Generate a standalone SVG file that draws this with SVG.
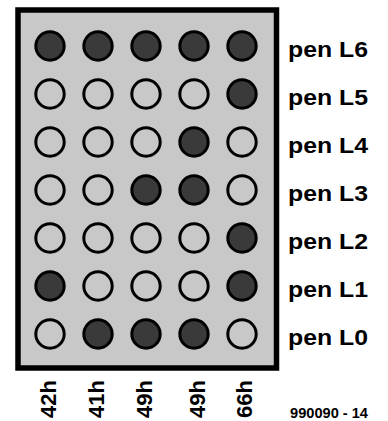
<svg xmlns="http://www.w3.org/2000/svg" width="388" height="421" viewBox="0 0 388 421">
<style>
.bg{fill:#ffffff}
.panel{fill:#c8c8c8;stroke:#000;stroke-width:5.5}
.on{fill:#3a3a3a;stroke:#000;stroke-width:3}
.off{fill:#c8c8c8;stroke:#000;stroke-width:3}
.lbl{font-family:"Liberation Sans",Arial,sans-serif;font-weight:bold;fill:#000}
.pen{font-size:22.5px}
.col{font-size:22px}
.num{font-size:15px}
</style>
<rect class="bg" x="0" y="0" width="388" height="421"/>
<g id="panel">
<rect class="panel" x="18" y="10" width="258.5" height="358"/>
</g>
<g id="row-L6">
<circle class="on" cx="50" cy="46" r="14.2"/><circle class="on" cx="98" cy="46" r="14.2"/><circle class="on" cx="146" cy="46" r="14.2"/><circle class="on" cx="194" cy="46" r="14.2"/><circle class="on" cx="242" cy="46" r="14.2"/>
<text class="lbl pen" x="288" y="56.5" textLength="80" lengthAdjust="spacingAndGlyphs">pen L6</text>
</g>
<g id="row-L5">
<circle class="off" cx="50" cy="94" r="14.2"/><circle class="off" cx="98" cy="94" r="14.2"/><circle class="off" cx="146" cy="94" r="14.2"/><circle class="off" cx="194" cy="94" r="14.2"/><circle class="on" cx="242" cy="94" r="14.2"/>
<text class="lbl pen" x="288" y="104.5" textLength="80" lengthAdjust="spacingAndGlyphs">pen L5</text>
</g>
<g id="row-L4">
<circle class="off" cx="50" cy="142" r="14.2"/><circle class="off" cx="98" cy="142" r="14.2"/><circle class="off" cx="146" cy="142" r="14.2"/><circle class="on" cx="194" cy="142" r="14.2"/><circle class="off" cx="242" cy="142" r="14.2"/>
<text class="lbl pen" x="288" y="152.5" textLength="80" lengthAdjust="spacingAndGlyphs">pen L4</text>
</g>
<g id="row-L3">
<circle class="off" cx="50" cy="190" r="14.2"/><circle class="off" cx="98" cy="190" r="14.2"/><circle class="on" cx="146" cy="190" r="14.2"/><circle class="on" cx="194" cy="190" r="14.2"/><circle class="off" cx="242" cy="190" r="14.2"/>
<text class="lbl pen" x="288" y="200.5" textLength="80" lengthAdjust="spacingAndGlyphs">pen L3</text>
</g>
<g id="row-L2">
<circle class="off" cx="50" cy="238" r="14.2"/><circle class="off" cx="98" cy="238" r="14.2"/><circle class="off" cx="146" cy="238" r="14.2"/><circle class="off" cx="194" cy="238" r="14.2"/><circle class="on" cx="242" cy="238" r="14.2"/>
<text class="lbl pen" x="288" y="248.5" textLength="80" lengthAdjust="spacingAndGlyphs">pen L2</text>
</g>
<g id="row-L1">
<circle class="on" cx="50" cy="286" r="14.2"/><circle class="off" cx="98" cy="286" r="14.2"/><circle class="off" cx="146" cy="286" r="14.2"/><circle class="off" cx="194" cy="286" r="14.2"/><circle class="on" cx="242" cy="286" r="14.2"/>
<text class="lbl pen" x="288" y="296.5" textLength="80" lengthAdjust="spacingAndGlyphs">pen L1</text>
</g>
<g id="row-L0">
<circle class="off" cx="50" cy="334" r="14.2"/><circle class="on" cx="98" cy="334" r="14.2"/><circle class="on" cx="146" cy="334" r="14.2"/><circle class="on" cx="194" cy="334" r="14.2"/><circle class="off" cx="242" cy="334" r="14.2"/>
<text class="lbl pen" x="288" y="344.5" textLength="80" lengthAdjust="spacingAndGlyphs">pen L0</text>
</g>
<g id="column-labels">
<text class="lbl col" transform="translate(55.5,418) rotate(-90)">42h</text>
<text class="lbl col" transform="translate(103.5,418) rotate(-90)">41h</text>
<text class="lbl col" transform="translate(151.5,418) rotate(-90)">49h</text>
<text class="lbl col" transform="translate(204.5,418) rotate(-90)">49h</text>
<text class="lbl col" transform="translate(251.5,418) rotate(-90)">66h</text>
</g>
<g id="figure-number">
<text class="lbl num" x="290" y="418" textLength="78" lengthAdjust="spacingAndGlyphs">990090 - 14</text>
</g>
</svg>
